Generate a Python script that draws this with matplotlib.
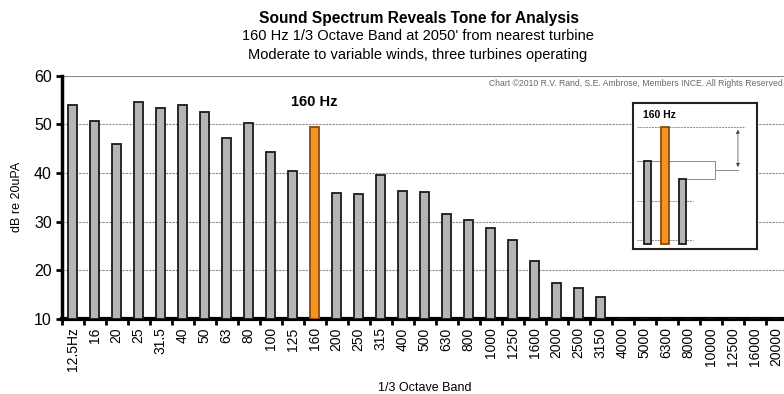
import numpy as np
import matplotlib
matplotlib.use("Agg")
import matplotlib.pyplot as plt

plt.rcParams['font.family'] = ['Liberation Sans', 'DejaVu Sans']

# 1/3 octave band centre frequencies
bands = ["12.5Hz", "16", "20", "25", "31.5", "40", "50", "63", "80", "100",
         "125", "160", "200", "250", "315", "400", "500", "630", "800", "1000",
         "1250", "1600", "2000", "2500", "3150", "4000", "5000", "6300", "8000",
         "10000", "12500", "16000", "20000"]

# Measured level per band, dB re 20uPa (nan = below the plotted floor)
levels = [54.0, 50.7, 46.0, 54.5, 53.3, 53.9, 52.5, 47.2, 50.2, 44.3,
          40.5, 49.4, 35.9, 35.7, 39.5, 36.3, 36.2, 31.6, 30.3, 28.6,
          26.3, 21.9, 17.4, 16.3, 14.6, np.nan, np.nan, np.nan, np.nan,
          np.nan, np.nan, np.nan, np.nan]

tone_band = "160"
y_floor = 10
y_ticks = [10, 20, 30, 40, 50, 60]

W, H = 784, 394
fig = plt.figure(figsize=(W / 100, H / 100), dpi=100)
fig.patch.set_facecolor("white")

ax = fig.add_axes([61.7 / W, (H - 319) / H, 726 / W, 243.3 / H])

x = np.arange(len(bands))
vals = np.array(levels, dtype=float)
gray = "#b5b5b5"
orange = "#f7941d"
colors = [orange if b == tone_band else gray for b in bands]
edges = ["#8a4a10" if b == tone_band else "#1a1a1a" for b in bands]
heights = np.where(np.isnan(vals), 0, vals - y_floor)
ax.bar(x, heights, bottom=y_floor, width=0.43, color=colors,
       edgecolor=edges, linewidth=1.3, zorder=3)

ax.set_xlim(-0.5, len(bands) - 0.5)
ax.set_ylim(y_floor, 60)
ax.set_yticks(y_ticks)
ax.set_yticklabels([str(t) for t in y_ticks], fontsize=11.5)
ax.set_xticks(x)
ax.set_xticklabels(bands, rotation=90, fontsize=10)
ax.set_xticks(np.arange(len(bands) + 1) - 0.5, minor=True)
ax.tick_params(axis="x", which="major", length=0, pad=6)
ax.tick_params(axis="x", which="minor", length=4, width=2, direction="out")
ax.tick_params(axis="y", length=4, width=2, direction="out", pad=3)

for s in ["top", "right"]:
    ax.spines[s].set_visible(False)
ax.spines["left"].set_linewidth(2.5)
ax.spines["bottom"].set_linewidth(3)

for t in y_ticks[1:]:
    ax.axhline(t, color="#8a8a8a", linewidth=0.8,
               linestyle=(0, (2, 1)) if t < 60 else "-", zorder=1)

ax.set_ylabel("dB re 20uPA", fontsize=9, labelpad=8)
ax.set_xlabel("1/3 Octave Band", fontsize=9, labelpad=8)

ti = bands.index(tone_band)
ax.text(ti, vals[ti] + 3.8, "160 Hz", ha="center", va="bottom",
        fontsize=10.5, fontweight="bold", zorder=4)

# Titles
fig.text(419 / W, 1 - 18 / H, "Sound Spectrum Reveals Tone for Analysis",
         ha="center", va="center", fontsize=11.2, fontweight="bold")
fig.text(418 / W, 1 - 36.5 / H, "160 Hz 1/3 Octave Band at 2050' from nearest turbine",
         ha="center", va="center", fontsize=10.5)
fig.text(418 / W, 1 - 54.5 / H, "Moderate to variable winds, three turbines operating",
         ha="center", va="center", fontsize=10.5)
fig.text(783 / W, 1 - 84 / H,
         "Chart \u00a92010 R.V. Rand, S.E. Ambrose, Members INCE. All Rights Reserved",
         ha="right", va="center", fontsize=6.2, color="#666666")

# Inset: tone prominence over the neighbouring bands
ins = fig.add_axes([633 / W, (H - 249) / H, 124 / W, 146 / H])
ins.set_facecolor("white")
nb = [ti - 1, ti, ti + 1]
ix = np.arange(3)
ins_floor = 19
ins.bar(ix, vals[nb] - ins_floor, bottom=ins_floor, width=0.43,
        color=[colors[i] for i in nb], edgecolor=[edges[i] for i in nb],
        linewidth=1.3, zorder=3)
ins.set_xlim(-0.83, 6.26)
ins.set_ylim(17.6, 55.6)
ins.set_xticks([])
ins.set_yticks([])
for s in ins.spines.values():
    s.set_linewidth(1.5)
    s.set_color("#222222")
for t in (20, 30):
    ins.plot([-0.6, 2.6], [t, t], color="#8a8a8a", lw=0.7,
             linestyle=(0, (2, 1)), zorder=1)
lo, mid, hi = vals[ti - 1], vals[ti], vals[ti + 1]
ins.plot([-0.6, 5.6], [mid, mid], color="#8a8a8a", lw=0.7,
         linestyle=(0, (2, 1)), zorder=1)
avg = (lo + hi) / 2
ins.plot([-0.6, 3.86, 3.86, 2.2], [lo, lo, hi, hi], color="#8a8a8a", lw=0.7, zorder=2)
ins.plot([3.86, 5.17], [avg, avg], color="#8a8a8a", lw=0.7, zorder=2)
ins.annotate("", xy=(5.17, mid), xytext=(5.17, avg),
             arrowprops=dict(arrowstyle="<|-|>", color="#444444", lw=0.6,
                             linestyle=(0, (1, 1)), mutation_scale=5))
ins.text(-0.26, 52.4, "160 Hz", ha="left", va="center", fontsize=7.5,
         fontweight="bold")

fig.savefig("out.png", dpi=100, facecolor="white")
